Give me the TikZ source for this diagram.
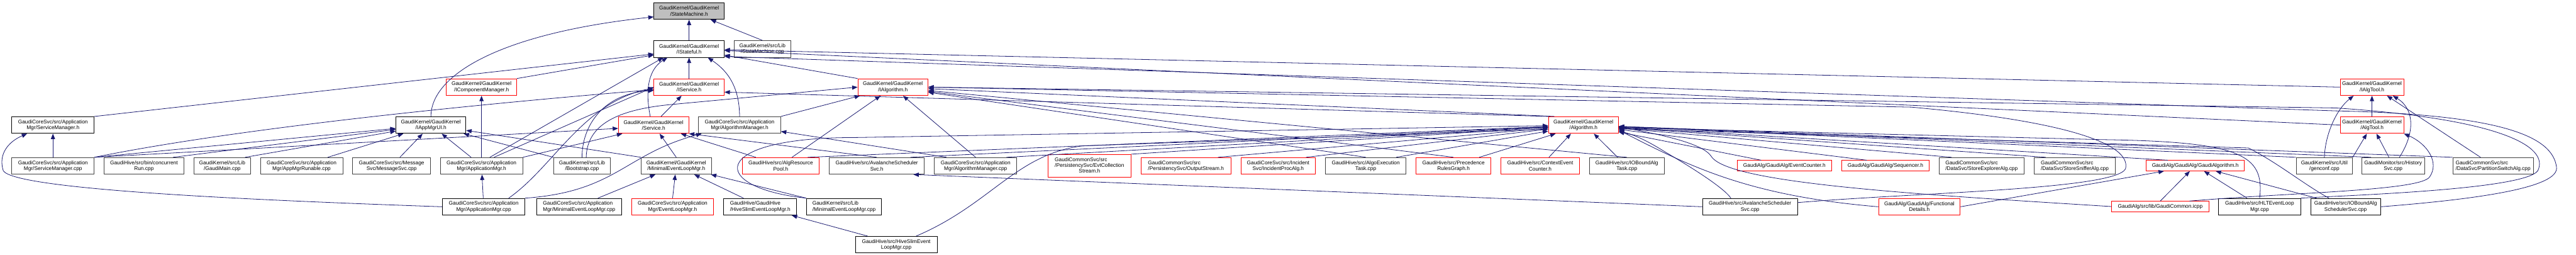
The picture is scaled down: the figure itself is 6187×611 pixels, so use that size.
\documentclass[tikz,border=0pt]{standalone}
\usepackage{fontspec}
\newfontfamily\gfam{Liberation Sans}
\usetikzlibrary{arrows.meta}
\definecolor{navy}{HTML}{191970}
\definecolor{rootg}{HTML}{BFBFBF}
\definecolor{dgrey}{HTML}{404040}
\definecolor{rbox}{HTML}{FF0000}
\newcommand{\gfont}{\gfam\fontsize{12.6}{13.7}\selectfont}
\newcommand{\mkbox}[6]{\node[box,#5,minimum width=#3pt] (#1) at (#2,#4) {#6};}
\tikzset{
 box/.style={draw, rectangle, inner sep=0pt, minimum height=40pt, align=center, line width=1.3pt, font=\gfont},
 rb/.style={draw=rbox},
 gb/.style={draw=dgrey},
 kb/.style={draw=black},
 rootb/.style={draw=black, fill=rootg},
 one/.style={minimum height=25pt},
 three/.style={minimum height=55pt},
 lal/.style={align=left},
 lnk/.style={draw=navy, line width=1.2pt, -{Triangle[length=13pt,width=10pt]}},
}
\begin{document}
\begin{tikzpicture}[x=1pt,y=1pt]
\fill[white] (0,0) rectangle (6187,611);
\useasboundingbox (0,0) rectangle (6187,611);
% row 1-4
\mkbox{smh}{1655}{168.6}{584.5}{rootb}{GaudiKernel/GaudiKernel\\/StateMachine.h}
\mkbox{istf}{1655}{168.6}{493.5}{kb}{GaudiKernel/GaudiKernel\\/IStateful.h}
\mkbox{smcpp}{1831.2}{136.3}{493.5}{gb}{GaudiKernel/src/Lib\\/StateMachine.cpp}
\mkbox{icm}{1156.5}{168.4}{402}{rb}{GaudiKernel/GaudiKernel\\/IComponentManager.h}
\mkbox{isvc}{1655}{168.6}{402}{rb}{GaudiKernel/GaudiKernel\\/IService.h}
\mkbox{ialg}{2144.5}{168.4}{402}{rb}{GaudiKernel/GaudiKernel\\/IAlgorithm.h}
\mkbox{ialgt}{5696.9}{152.3}{402}{rb}{GaudiKernel/GaudiKernel\\/IAlgTool.h}
\mkbox{smgrh}{127.2}{197.7}{311}{kb}{GaudiCoreSvc/src/Application\\Mgr/ServiceManager.h}
\mkbox{iappui}{1035}{168}{311}{kb}{GaudiKernel/GaudiKernel\\/IAppMgrUI.h}
\mkbox{svch}{1569.7}{168.7}{311}{rb}{GaudiKernel/GaudiKernel\\/Service.h}
\mkbox{algmgrh}{1776.3}{197.3}{311}{gb}{GaudiCoreSvc/src/Application\\Mgr/AlgorithmManager.h}
\mkbox{algh}{3803}{168}{311}{rb}{GaudiKernel/GaudiKernel\\/Algorithm.h}
\mkbox{algtoolh}{5696.9}{152.3}{311}{rb}{GaudiKernel/GaudiKernel\\/AlgTool.h}
% row 5
\mkbox{smgrcpp}{127.2}{197.7}{213}{gb}{GaudiCoreSvc/src/Application\\Mgr/ServiceManager.cpp}
\mkbox{crun}{345.7}{190.7}{213}{gb}{GaudiHive/src/bin/concurrent\\Run.cpp}
\mkbox{gmain}{533.7}{136.7}{213}{gb}{GaudiKernel/src/Lib\\/GaudiMain.cpp}
\mkbox{amrun}{724.3}{198}{213}{gb}{GaudiCoreSvc/src/Application\\Mgr/AppMgrRunable.cpp}
\mkbox{msgsvc}{940.5}{187}{213}{gb}{GaudiCoreSvc/src/Message\\Svc/MessageSvc.cpp}
\mkbox{appmgrh}{1156.5}{197.6}{213}{gb}{GaudiCoreSvc/src/Application\\Mgr/ApplicationMgr.h}
\mkbox{boot}{1397.9}{136.3}{213}{gb}{GaudiKernel/src/Lib\\/Bootstrap.cpp}
\mkbox{melmh}{1624.2}{168.3}{213}{gb}{GaudiKernel/GaudiKernel\\/MinimalEventLoopMgr.h}
\mkbox{arp}{1875.2}{183.7}{213}{rb}{GaudiHive/src/AlgResource\\Pool.h}
\mkbox{asvch}{2105.9}{228.3}{213}{gb}{GaudiHive/src/AvalancheScheduler\\Svc.h}
\mkbox{algmgrcpp}{2343.2}{197.7}{213}{gb}{GaudiCoreSvc/src/Application\\Mgr/AlgorithmManager.cpp}
\mkbox{ecs}{2616.7}{200}{213}{rb,three}{\begin{tabular}{@{}l@{}}GaudiCommonSvc/src\\/PersistencySvc/EvtCollection\\\multicolumn{1}{@{}c@{}}{Stream.h}\end{tabular}}
\mkbox{ostr}{2848.4}{215.3}{213}{rb,lal}{GaudiCommonSvc/src\\/PersistencySvc/OutputStream.h}
\mkbox{ipa}{3069.8}{179}{213}{rb}{GaudiCoreSvc/src/Incident\\Svc/IncidentProcAlg.h}
\mkbox{aet}{3280.3}{194}{213}{gb}{GaudiHive/src/AlgoExecution\\Task.cpp}
\mkbox{prg}{3491}{179.4}{213}{rb}{GaudiHive/src/Precedence\\RulesGraph.h}
\mkbox{cec}{3699.2}{189.7}{213}{rb}{GaudiHive/src/ContextEvent\\Counter.h}
\mkbox{iobt}{3907.2}{179}{213}{gb}{GaudiHive/src/IOBoundAlg\\Task.cpp}
\mkbox{evc}{4285.8}{227}{213.5}{rb,one}{GaudiAlg/GaudiAlg/EventCounter.h}
\mkbox{seq}{4528.5}{209.6}{213.5}{rb,one}{GaudiAlg/GaudiAlg/Sequencer.h}
\mkbox{sea}{4759.2}{204.3}{213}{gb,lal}{GaudiCommonSvc/src\\/DataSvc/StoreExplorerAlg.cpp}
\mkbox{ssa}{4983.2}{195}{213}{gb,lal}{GaudiCommonSvc/src\\/DataSvc/StoreSnifferAlg.cpp}
\mkbox{galgh}{5272.5}{236.4}{213.5}{rb,one}{GaudiAlg/GaudiAlg/GaudiAlgorithm.h}
\mkbox{genconf}{5582.5}{135}{213}{gb}{GaudiKernel/src/Util\\/genconf.cpp}
\mkbox{hist}{5747.7}{151.3}{213}{gb}{GaudiMonitor/src/History\\Svc.cpp}
\mkbox{psa}{5987.7}{193.3}{213}{gb,lal}{GaudiCommonSvc/src\\/DataSvc/PartitionSwitchAlg.cpp}
% row 6
\mkbox{appmgrcpp}{1161.7}{198}{115}{kb}{GaudiCoreSvc/src/Application\\Mgr/ApplicationMgr.cpp}
\mkbox{melmapp}{1391}{203.4}{115}{kb,lal}{GaudiCoreSvc/src/Application\\Mgr/MinimalEventLoopMgr.cpp}
\mkbox{elmh}{1615.4}{197.3}{115}{rb}{GaudiCoreSvc/src/Application\\Mgr/EventLoopMgr.h}
\mkbox{hselmh}{1825.8}{175}{115}{kb,lal}{GaudiHive/GaudiHive\\/HiveSlimEventLoopMgr.h}
\mkbox{melmlib}{2027.2}{180.3}{115}{kb,lal}{GaudiKernel/src/Lib\\/MinimalEventLoopMgr.cpp}
\mkbox{asvccpp}{4203.2}{228.3}{115}{kb}{GaudiHive/src/AvalancheScheduler\\Svc.cpp}
\mkbox{fdet}{4609.9}{196.3}{115}{rb}{GaudiAlg/GaudiAlg/Functional\\Details.h}
\mkbox{gcicpp}{5188.4}{233.3}{115.5}{rb,one}{GaudiAlg/src/lib/GaudiCommon.icpp}
\mkbox{hlt}{5427}{196.6}{115}{kb}{GaudiHive/src/HLTEventLoop\\Mgr.cpp}
\mkbox{iobsch}{5633.5}{167.6}{115}{kb}{GaudiHive/src/IOBoundAlg\\SchedulerSvc.cpp}
% row 7
\mkbox{hselmcpp}{2152.5}{196.4}{24}{kb}{GaudiHive/src/HiveSlimEvent\\LoopMgr.cpp}

% ---- edges ----
% StateMachine.h
\draw[lnk] (istf) -- (smh);
\draw[lnk] (smcpp.north) -- (smh);
\draw[lnk] (iappui.north) .. controls (1035,611-180) and (1200,611-80) .. ([yshift=-14pt]smh.west);
% IStateful.h
\draw[lnk] (isvc) -- (istf);
\draw[lnk] (icm.north east) -- (istf);
\draw[lnk] (smgrh.north east) -- ([yshift=-12pt]istf.west);
\draw[lnk] ([xshift=-8pt]svch.north) .. controls (1548,611-210) and (1560,611-165) .. ([xshift=-52pt]istf.south);
\draw[lnk] (algmgrh.north) .. controls (1776,611-200) and (1740,611-165) .. ([xshift=45pt]istf.south);
\draw[lnk] ([xshift=20pt]appmgrh.north) -- ([xshift=-62pt]istf.south);
\draw[lnk] (ialg.north west) -- (istf);
\draw[lnk] (ialgt.west) -- (istf);
\draw[lnk] (algtoolh.west) -- (istf);
\draw[lnk] (iobsch.east) .. controls (5950,611-478) and (6150,611-450) .. (6140,611-400) .. controls (6130,611-330) and (6020,611-275) .. (5610,611-266) -- ([yshift=-18pt]istf.east);
% IComponentManager.h
\draw[lnk] (appmgrh.north) -- (icm);
% IService.h
\draw[lnk] ([xshift=18pt]svch.north) -- ([xshift=-18pt]isvc.south);
\draw[lnk] (smgrcpp.north east) .. controls (520,611-318) and (1000,611-262) .. ([yshift=-6pt]isvc.west);
\draw[lnk] (boot.north) .. controls (1398,611-300) and (1450,611-225) .. ([yshift=-8pt]isvc.west);
\draw[lnk] ([xshift=60pt]appmgrcpp.north) .. controls (1330,611-400) and (1400,611-245) .. ([yshift=-2pt]isvc.west);
\draw[lnk] ([xshift=30pt]appmgrh.north) -- (isvc.west);
\draw[lnk] (algh.north west) -- ([yshift=-12pt]isvc.east);
% IAppMgrUI.h
\draw[lnk] ([xshift=-25pt]appmgrh.north) -- (iappui);
\draw[lnk] (boot.north west) -- (iappui);
\draw[lnk] ([xshift=55pt]gmain.north) -- (iappui);
\draw[lnk] ([xshift=63pt]amrun.north) -- (iappui);
\draw[lnk] ([xshift=20pt]msgsvc.north) -- (iappui);
\draw[lnk] ([xshift=70pt]crun.north) -- (iappui);
\draw[lnk] (smgrcpp.north east) -- (iappui);
\draw[lnk] (melmh.north west) -- (iappui);
% ServiceManager.h
\draw[lnk] (smgrcpp) -- (smgrh);
\draw[lnk] (appmgrcpp.west) .. controls (600,611-480) and (40,611-455) .. (8,611-410) .. controls (-5,611-370) and (20,611-340) .. ([xshift=-62pt]smgrh.south);
% Service.h
\draw[lnk] (smgrcpp.north east) -- ([yshift=-8pt]svch.west);
\draw[lnk] (melmh.north) -- (svch);
\draw[lnk] ([xshift=-60pt]arp.north) -- (svch);
\draw[lnk] (appmgrh.north east) -- ([xshift=10pt]svch.south west);
\draw[lnk] (asvch.north) -- (svch.south east);
% AlgorithmManager.h
\draw[lnk] ([xshift=-70pt]algmgrcpp.north) -- (algmgrh);
\draw[lnk] (appmgrcpp.north east) .. controls (1480,611-460) and (1500,611-370) .. ([xshift=8pt]algmgrh.south west);
% IAlgorithm.h
\draw[lnk] (algmgrcpp.north) -- (ialg);
\draw[lnk] (algmgrh.north east) -- (ialg);
\draw[lnk] ([xshift=27pt]arp.north) -- (ialg);
\draw[lnk] ([xshift=15pt]algh.north west) -- (ialg);
\draw[lnk] (aet.north) -- (ialg);
\draw[lnk] (prg.north) -- (ialg);
\draw[lnk] (iobt.north) -- (ialg);
\draw[lnk] ([xshift=10pt]boot.north) .. controls (1410,611-300) and (1480,611-262) .. (1620,611-250) -- (ialg.west);
\draw[lnk] ([yshift=10pt]asvccpp.east) .. controls (4600,611-462) and (5080,611-455) .. (5105,611-405) .. controls (5120,611-345) and (4960,611-290) .. (4590,611-257) -- (ialg.east);
\draw[lnk] (hlt.north east) .. controls (5650,611-468) and (6060,611-455) .. (6095,611-410) .. controls (6125,611-350) and (6000,611-285) .. (5610,611-259) -- (ialg.east);
% Algorithm.h (left)
\draw[lnk] (ecs.north east) -- (algh);
\draw[lnk] ([xshift=77pt]ostr.north) -- (algh);
\draw[lnk] ([xshift=67pt]ipa.north) -- (algh);
\draw[lnk] ([xshift=73pt]aet.north) -- (algh);
\draw[lnk] ([xshift=62pt]prg.north) -- (algh);
\draw[lnk] ([xshift=21pt]cec.north) -- ([xshift=-30pt]algh.south);
\draw[lnk] ([xshift=-22pt]iobt.north) -- ([xshift=25pt]algh.south);
\draw[lnk] ([xshift=74pt]algmgrcpp.north) -- (algh);
\draw[lnk] ([xshift=65pt]arp.north) -- (algh);
\draw[lnk] ([xshift=81pt]asvch.north) -- (algh);
\draw[lnk] (melmlib.north west) .. controls (1700,611-450) and (1700,611-330) .. (2050,611-330) -- (algh);
\draw[lnk] ([xshift=48pt]hselmcpp.north) .. controls (2380,611-490) and (2440,611-370) .. (2600,611-350) -- ([yshift=-10pt]algh.west);
% Algorithm.h (right)
\draw[lnk] ([xshift=-56pt]evc.north) -- (algh);
\draw[lnk] ([xshift=-45pt]seq.north) -- (algh);
\draw[lnk] ([xshift=-72pt]sea.north) -- (algh);
\draw[lnk] ([xshift=-70pt]ssa.north) -- (algh);
\draw[lnk] ([xshift=-66pt]galgh.north) -- (algh);
\draw[lnk] (genconf.north west) -- (algh);
\draw[lnk] ([xshift=-53pt]hist.north) -- (algh);
\draw[lnk] (psa.north west) -- (algh);
\draw[lnk] (fdet.west) .. controls (4200,611-470) and (4060,611-400) .. ([yshift=-12pt]algh.east);
\draw[lnk] (gcicpp.west) .. controls (4600,611-466) and (4150,611-440) .. (4110,611-375) .. controls (4090,611-345) and (4000,611-325) .. ([yshift=-4pt]algh.east);
\draw[lnk] ([xshift=-46pt]asvccpp.north) .. controls (4140,611-450) and (4060,611-400) .. (4000,611-365) .. controls (3960,611-340) and (3930,611-325) .. ([yshift=-14pt]algh.east);
\draw[lnk] (hlt.north) .. controls (5440,611-370) and (5380,611-340) .. (5050,611-335) -- ([yshift=-6pt]algh.east);
\draw[lnk] ([xshift=-40pt]iobsch.north) .. controls (5530,611-440) and (5470,611-390) .. (5400,611-355) -- ([yshift=-9pt]algh.east);
% IAlgTool.h
\draw[lnk] (algtoolh) -- (ialgt);
\draw[lnk] (genconf.north) .. controls (5585,611-320) and (5612,611-262) .. ([xshift=-44pt]ialgt.south);
\draw[lnk] ([xshift=15pt]hist.north) .. controls (5800,611-320) and (5800,611-262) .. ([xshift=50pt]ialgt.south);
\draw[lnk] ([xshift=-30pt]psa.north) -- ([xshift=36pt]ialgt.south);
% AlgTool.h
\draw[lnk] ([xshift=-10pt]hist.north) -- (algtoolh);
\draw[lnk] (genconf.north east) -- (algtoolh);
\draw[lnk] ([xshift=70pt]gcicpp.north) .. controls (5500,611-462) and (5810,611-458) .. (5835,611-425) .. controls (5860,611-390) and (5830,611-345) .. (algtoolh.south east);
% GaudiAlgorithm.h
\draw[lnk] (gcicpp.north) -- (galgh);
\draw[lnk] ([xshift=-30pt]hlt.north) -- (galgh);
\draw[lnk] ([xshift=-70pt]iobsch.north) -- (galgh);
\draw[lnk] (fdet.east) -- (galgh);
% MinimalEventLoopMgr.h
\draw[lnk] (elmh.north) -- (melmh);
\draw[lnk] ([xshift=-40pt]hselmh.north) -- (melmh);
\draw[lnk] (melmlib.north west) -- (melmh);
\draw[lnk] ([xshift=45pt]melmapp.north) -- (melmh);
% HiveSlimEventLoopMgr.h
\draw[lnk] ([xshift=30pt]hselmcpp.north west) -- (hselmh);
% AvalancheSchedulerSvc.h
\draw[lnk] (asvccpp.west) -- ([xshift=-27pt]asvch.south east);
% ApplicationMgr.h
\draw[lnk] (appmgrcpp) -- (appmgrh);
\end{tikzpicture}
\end{document}
